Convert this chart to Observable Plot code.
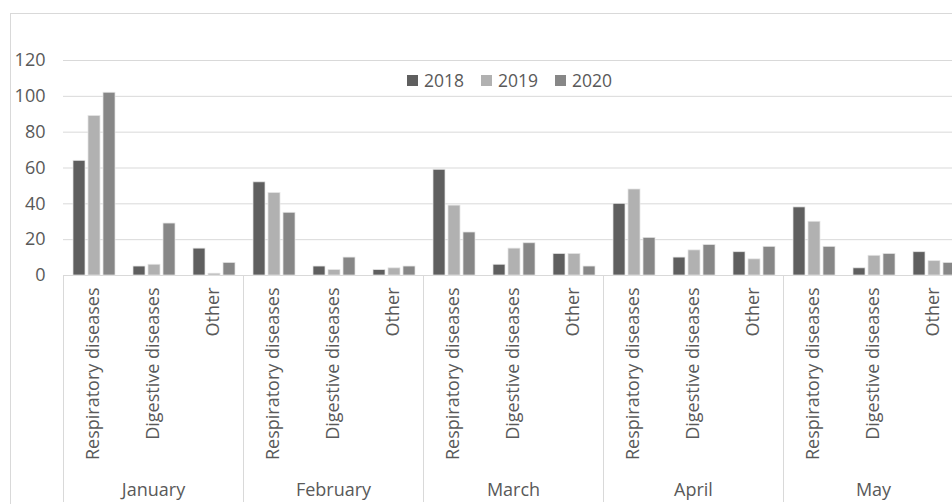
<!DOCTYPE html>
<html>
<head>
<meta charset="utf-8">
<script src="https://cdn.jsdelivr.net/npm/d3@7"></script>
<script src="https://cdn.jsdelivr.net/npm/@observablehq/plot@0.6"></script>
<style>
  html, body { margin: 0; padding: 0; background: #fff; }
  body { width: 952px; height: 504px; overflow: hidden; position: relative; font-family: "Open Sans", sans-serif; }
  #border { position: absolute; left: 10px; top: 13px; width: 1200px; height: 800px; border: 1px solid #d9d9d9; box-sizing: border-box; }
  #chart { position: absolute; left: 0; top: 0; width: 975px; }
  #chart svg { background: transparent !important; max-width: none !important; }
  #legend { position: absolute; left: 407px; top: 69px; height: 22px; display: flex; align-items: center; color: #595959; font-size: 17.5px; line-height: 22px; }
  #legend .item { display: flex; align-items: center; margin-right: 17px; }
  #legend .sw { width: 11px; height: 11px; margin-right: 6px; box-sizing: border-box; }
</style>
</head>
<body>
<div id="border"></div>
<div id="chart"></div>
<div id="legend"></div>
<script>
// ---- data ----
const months = ["January", "February", "March", "April", "May"];
const categories = ["Respiratory diseases", "Digestive diseases", "Other"];
const years = ["2018", "2019", "2020"];
const colors = ["#5f5f5f", "#b1b1b1", "#878787"];
// values ordered month by month, categories in order above
const values2018 = [64, 5, 15, 52, 5, 3, 59, 6, 12, 40, 10, 13, 38, 4, 13];
const values2019 = [89, 6, 1, 46, 3, 4, 39, 15, 12, 48, 14, 9, 30, 11, 8];
const values2020 = [102, 29, 7, 35, 10, 5, 24, 18, 5, 21, 17, 16, 16, 12, 7];
const yTicks = [0, 20, 40, 60, 80, 100, 120];

const seriesByYear = {"2018": values2018, "2019": values2019, "2020": values2020};
const rows = [];
years.forEach(year => {
  months.forEach((month, mi) => {
    categories.forEach((category, ci) => {
      rows.push({month, category, year, value: seriesByYear[year][mi * categories.length + ci]});
    });
  });
});

// ---- layout ----
const W = 975, H = 504;
const mL = 63, mR = 12, mT = 60, mB = 229;
const facetW = (W - mL - mR) / months.length;
const bandW = facetW / categories.length;
const barW = 12, barGap = 3;
const clusterStart = (bandW - (years.length * barW + (years.length - 1) * barGap)) / 2 + 1;
const plotH = H - mT - mB;
const sepLen = 227;
const textColor = "#595959";
const gridColor = "#d9d9d9";
const fs = 18;

const barMarks = years.map((year, i) => {
  const left = clusterStart + i * (barW + barGap);
  return Plot.barY(rows.filter(d => d.year === year), {
    fx: "month", x: "category", y: "value", fill: "year",
    stroke: "#e4e4e4", strokeWidth: 0.75,
    insetLeft: left, insetRight: bandW - left - barW
  });
});

const chart = Plot.plot({
  width: W, height: H,
  marginLeft: mL, marginRight: mR, marginTop: mT, marginBottom: mB,
  style: {fontFamily: "'Open Sans', sans-serif", fontSize: fs + "px", color: textColor, background: "transparent", maxWidth: "none"},
  fx: {domain: months, padding: 0},
  x: {domain: categories, padding: 0},
  y: {domain: [0, 120]},
  color: {domain: years, range: colors},
  marks: [
    Plot.ruleY(yTicks, {stroke: gridColor, strokeWidth: 1}),
    ...barMarks,
    Plot.ruleX(months, {fx: d => d, x: null, dx: -facetW / 2, insetTop: plotH, insetBottom: -sepLen, stroke: gridColor, strokeWidth: 1}),
    Plot.axisY({ticks: yTicks, tickSize: 0, tickPadding: 18, fill: textColor, fontSize: fs, label: null}),
    Plot.axisX({tickRotate: -90, tickSize: 0, tickPadding: 12, fill: textColor, fontSize: fs, label: null}),
    Plot.axisFx({anchor: "bottom", tickSize: 0, tickPadding: 208, fill: textColor, fontSize: fs, label: null})
  ]
});
chart.style.maxWidth = "none";
chart.style.width = W + "px";
document.getElementById("chart").appendChild(chart);

// ---- legend ----
const legend = document.getElementById("legend");
years.forEach((year, i) => {
  const item = document.createElement("div");
  item.className = "item";
  const sw = document.createElement("span");
  sw.className = "sw";
  sw.style.background = colors[i];
  const label = document.createElement("span");
  label.textContent = year;
  item.appendChild(sw);
  item.appendChild(label);
  legend.appendChild(item);
});
</script>
</body>
</html>
